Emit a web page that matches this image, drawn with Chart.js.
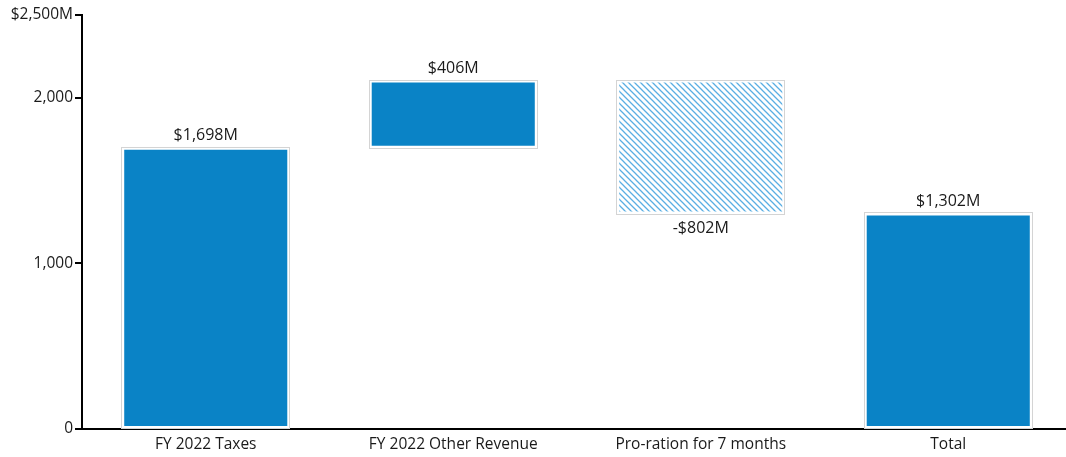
<!DOCTYPE html>
<html>
<head>
<meta charset="utf-8">
<script src="https://cdn.jsdelivr.net/npm/chart.js@4"></script>
<style>
  html, body { margin: 0; padding: 0; background: #ffffff; overflow: hidden; }
  #wrap { width: 1072px; height: 457px; position: relative; }
</style>
</head>
<body>
<div id="wrap"><canvas id="chart"></canvas></div>
<script>
// Waterfall: revenue build-up and pro-ration
const categories = ['FY 2022 Taxes', 'FY 2022 Other Revenue', 'Pro-ration for 7 months', 'Total'];
const changes = [1698, 406, -802, 1302];
const isTotal = [false, false, false, true];
const valueLabels = ['$1,698M', '$406M', '-$802M', '$1,302M'];
const yTickValues = [0, 1000, 2000, 2500];
const yTickLabels = ['0', '1,000', '2,000', '$2,500M'];

const SOLID = '#0a83c6';
const HATCH = '#5aaee3';
const FONT = '"Open Sans", "Noto Sans", sans-serif';

// Floating [start, end] ranges from the running total
const ranges = [];
let running = 0;
changes.forEach((v, i) => {
  if (isTotal[i]) {
    ranges.push([0, v]);
    running = v;
  } else {
    ranges.push([running, running + v]);
    running += v;
  }
});

// Diagonal hatch pattern for negative steps
function hatchPattern() {
  const size = 6;
  const c = document.createElement('canvas');
  c.width = size; c.height = size;
  const g = c.getContext('2d');
  g.fillStyle = '#ffffff';
  g.fillRect(0, 0, size, size);
  g.strokeStyle = HATCH;
  g.lineWidth = 1.3;
  g.beginPath();
  g.moveTo(-1, -1); g.lineTo(size + 1, size + 1);
  g.moveTo(-1, size - 1); g.lineTo(1, size + 1);
  g.moveTo(size - 1, -1); g.lineTo(size + 1, 1);
  g.stroke();
  return g.createPattern(c, 'repeat');
}
const pattern = hatchPattern();
const fills = changes.map(v => v < 0 ? pattern : SOLID);

// Thin grey frame around each bar and value labels
const barDecor = {
  id: 'barDecor',
  afterDatasetsDraw(chart) {
    const ctx = chart.ctx;
    const meta = chart.getDatasetMeta(0);
    ctx.save();
    meta.data.forEach((el, i) => {
      const p = el.getProps(['x', 'y', 'base', 'width'], true);
      const left = p.x - p.width / 2;
      const top = Math.min(p.y, p.base);
      const bottom = Math.max(p.y, p.base);
      ctx.strokeStyle = '#d4d4d4';
      ctx.lineWidth = 1;
      ctx.strokeRect(Math.round(left) - 0.5, Math.round(top) - 0.5, Math.round(p.width) + 1, Math.round(bottom - top) + 1);

      ctx.fillStyle = '#1a1a1a';
      ctx.font = '16px ' + FONT;
      ctx.textAlign = 'center';
      if (changes[i] < 0) {
        ctx.textBaseline = 'top';
        ctx.fillText(valueLabels[i], p.x, bottom + 7);
      } else {
        ctx.textBaseline = 'bottom';
        ctx.fillText(valueLabels[i], p.x, top - 4);
      }
    });
    ctx.restore();
  }
};

new Chart(document.getElementById('chart'), {
  type: 'bar',
  data: {
    labels: categories,
    datasets: [{
      data: ranges,
      backgroundColor: fills,
      borderColor: '#ffffff',
      borderWidth: 2,
      borderSkipped: false,
      barPercentage: 0.675,
      categoryPercentage: 1.0
    }]
  },
  options: {
    responsive: true,
    maintainAspectRatio: false,
    animation: false,
    layout: { padding: { top: 15, right: 0, left: 0, bottom: 0 } },
    plugins: {
      legend: { display: false },
      tooltip: { enabled: false }
    },
    scales: {
      x: {
        afterFit(scale) { scale.height = 28; },
        grid: { display: false, drawTicks: false },
        border: { display: true, color: '#000000', width: 2 },
        ticks: {
          color: '#1a1a1a',
          font: { family: FONT, size: 15.5 },
          padding: 6,
          maxRotation: 0
        }
      },
      y: {
        min: 0,
        max: 2500,
        afterBuildTicks(scale) {
          scale.ticks = yTickValues.map(v => ({ value: v }));
        },
        afterFit(scale) { scale.width = 82; },
        grid: {
          drawOnChartArea: false,
          drawTicks: true,
          tickLength: 7,
          tickColor: '#000000',
          lineWidth: 2
        },
        border: { display: true, color: '#000000', width: 2 },
        ticks: {
          color: '#1a1a1a',
          font: { family: FONT, size: 15.5 },
          padding: 2,
          callback(value) {
            const k = yTickValues.indexOf(value);
            return k >= 0 ? yTickLabels[k] : '';
          }
        }
      }
    }
  },
  plugins: [barDecor]
});
</script>
</body>
</html>
